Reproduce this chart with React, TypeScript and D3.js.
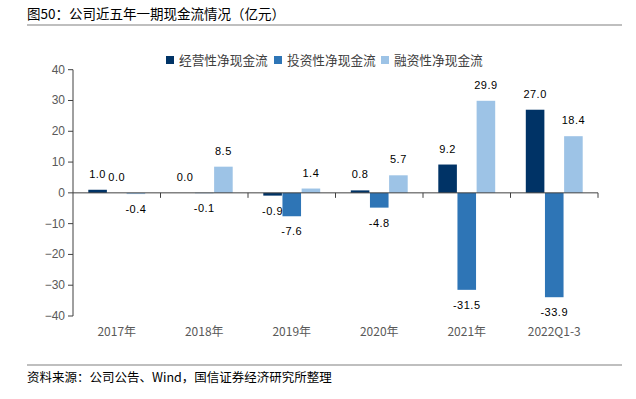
import React from "react";
import * as d3 from "d3";

const categories = ["2017年", "2018年", "2019年", "2020年", "2021年", "2022Q1-3"];
const seriesNames = ["经营性净现金流", "投资性净现金流", "融资性净现金流"];
const operating = [1.0, 0.0, -0.9, 0.8, 9.2, 27.0];
const investing = [0.0, -0.1, -7.6, -4.8, -31.5, -33.9];
const financing = [-0.4, 8.5, 1.4, 5.7, 29.9, 18.4];
const yTicks = [40, 30, 20, 10, 0, -10, -20, -30, -40];
const colors = ["#003366", "#2E75B6", "#9DC3E6"];

export default function App() {
  const W = 636, H = 399;
  const left = 73, right = 598, top = 69.7, bottom = 316;
  const series = [operating, investing, financing];
  const x = d3.scaleBand<string>().domain(categories).range([left, right]).paddingInner(0).paddingOuter(0);
  const inner = d3.scaleBand<number>().domain([0, 1, 2]).range([15.3, x.bandwidth() - 15.3]).paddingInner(0.03);
  const y = d3.scaleLinear().domain([-40, 40]).range([bottom, top]);
  const font = "'Liberation Sans', Arial, sans-serif";
  const cjk = "'Noto Sans CJK SC', sans-serif";
  const legendX = [166, 274, 381];
  return (
    <svg width={W} height={H} style={{ position: "absolute", left: 0, top: 0, background: "#fff" }}>
      <text x={27} y={19} fontFamily={cjk} fontSize={13.5} fill="#000">图50：公司近五年一期现金流情况（亿元）</text>
      <line x1={27} x2={622} y1={25} y2={25} stroke="#808080" strokeWidth={1.2} />
      {seriesNames.map((n, i) => (
        <g key={n}>
          <rect x={legendX[i]} y={56} width={8} height={8} fill={colors[i]} />
          <text x={legendX[i] + 13} y={64.5} fontFamily={cjk} fontSize={12.7} fill="#404040">{n}</text>
        </g>
      ))}
      {yTicks.map((t) => (
        <g key={t}>
          <line x1={left - 5} x2={left} y1={y(t)} y2={y(t)} stroke="#404040" />
          <text x={left - 8} y={y(t) + 4} textAnchor="end" fontFamily={font} fontSize={12} fill="#595959">
            {t < 0 ? "−" + Math.abs(t) : t}
          </text>
        </g>
      ))}
      <line x1={left} x2={left} y1={top} y2={bottom} stroke="#404040" />
      {series.map((s, si) =>
        s.map((v, ci) => {
          const bx = (x(categories[ci]) as number) + (inner(si) as number);
          const bw = inner.bandwidth();
          const y0 = y(0), y1 = y(v);
          return (
            <g key={`${si}-${ci}`}>
              <rect x={bx} y={Math.min(y0, y1)} width={bw} height={Math.abs(y1 - y0)} fill={colors[si]} />
              <text
                x={bx + bw / 2}
                y={v >= 0 ? y1 - 12 : y1 + 19}
                textAnchor="middle"
                fontFamily={font}
                fontSize={11}
                letterSpacing={0.5}
                fill="#000"
              >
                {v.toFixed(1)}
              </text>
            </g>
          );
        })
      )}
      <line x1={left} x2={right} y1={y(0)} y2={y(0)} stroke="#404040" />
      {categories.map((c) => (
        <line key={c} x1={(x(c) as number) + x.bandwidth()} x2={(x(c) as number) + x.bandwidth()} y1={y(0)} y2={y(0) + 5} stroke="#404040" />
      ))}
      {categories.map((c) => (
        <text key={c} x={(x(c) as number) + x.bandwidth() / 2} y={336} textAnchor="middle" fontFamily={cjk} fontSize={12} fill="#595959">{c}</text>
      ))}
      <line x1={27} x2={622} y1={365} y2={365} stroke="#808080" strokeWidth={1.2} />
      <text x={27} y={382} fontFamily={cjk} fontSize={12.5} fill="#000">资料来源：公司公告、Wind，国信证券经济研究所整理</text>
    </svg>
  );
}
